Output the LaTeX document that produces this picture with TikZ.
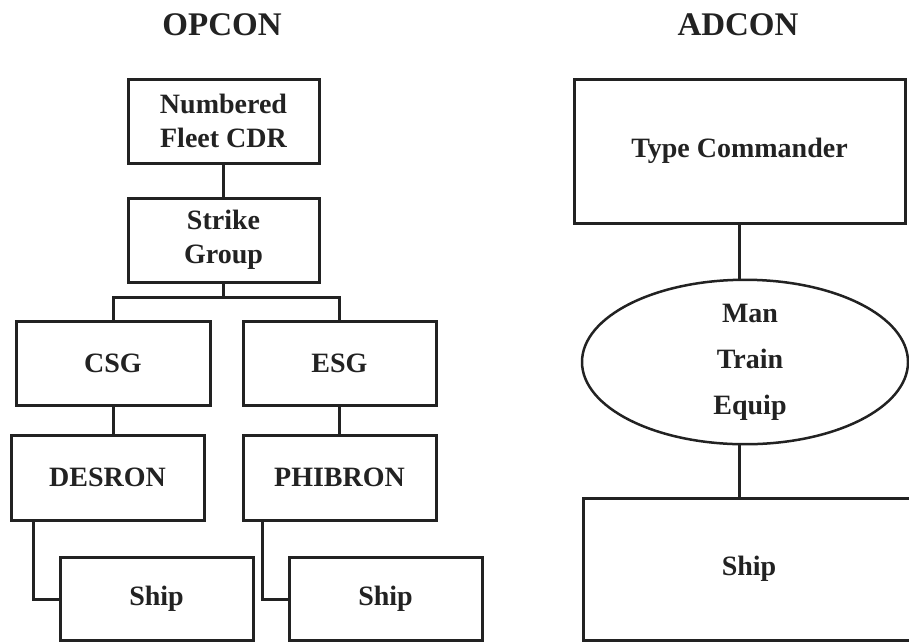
\documentclass[tikz,border=0pt]{standalone}
\usepackage{fontspec}
\setmainfont{Liberation Serif}
\usetikzlibrary{shapes.geometric}
\definecolor{ink}{HTML}{222222}
\begin{document}
\begin{tikzpicture}[x=1pt,y=-1pt,
  every node/.style={text=ink, font=\bfseries\fontsize{28}{34}\selectfont},
  box/.style={draw=ink, line width=3pt, rectangle, inner sep=0pt, align=center},
  oval/.style={draw=ink, line width=2.5pt, ellipse, inner sep=0pt, align=center, font=\bfseries\fontsize{28}{46}\selectfont},
  title/.style={font=\bfseries\fontsize{33}{40}\selectfont, anchor=base},
  link/.style={draw=ink, line width=3pt}]
\useasboundingbox (0,0) rectangle (909,641);
\fill[white] (0,0) rectangle (909,641);

% titles
\node[title] (opcon) at (222,35) {OPCON};
\node[title] (adcon) at (738,35) {ADCON};

% OPCON chain
\node[box, minimum width=191pt, minimum height=84pt] (nf) at (223.5,121) {Numbered\\Fleet CDR};
\node[box, minimum width=191pt, minimum height=84pt] (sg) at (223.5,240) {Strike\\Group};
\node[box, minimum width=194pt, minimum height=84pt] (csg) at (113,363) {CSG};
\node[box, minimum width=193pt, minimum height=84pt] (esg) at (339.5,363) {ESG};
\node[box, minimum width=193pt, minimum height=85pt] (des) at (107.5,477.5) {DESRON};
\node[box, minimum width=193pt, minimum height=85pt] (phi) at (339.5,477.5) {PHIBRON};
\node[box, minimum width=193pt, minimum height=83pt] (ship1) at (156.5,599) {Ship};
\node[box, minimum width=193pt, minimum height=83pt] (ship2) at (385.5,599) {Ship};

\coordinate (br) at (223.5,297);
\draw[link] (nf.south) -- (sg.north);
\draw[link] (sg.south) -- (br);
\draw[link] (csg.north) |- (br) -| (esg.north);
\draw[link] (csg.south) -- (csg.south |- des.north);
\draw[link] (esg.south) -- (phi.north);
\draw[link] ([xshift=-74.5pt]des.south) |- (ship1.west);
\draw[link] ([xshift=-77.5pt]phi.south) |- (ship2.west);

% ADCON chain
\node[box, minimum width=331pt, minimum height=144pt] (tc) at (739.5,151) {Type Commander};
\node[oval, minimum width=326pt, minimum height=152pt] (ell) at (745,362) {\hspace*{10pt}Man\\\hspace*{10pt}Train\\\hspace*{10pt}Equip};
\node[box, minimum width=332pt, minimum height=142pt] (ship3) at (749,569) {Ship};

\draw[link] (tc.south) -- (tc.south |- ell.north);
\draw[link] (tc.south |- ell.south) -- (tc.south |- ship3.north);
\end{tikzpicture}
\end{document}
